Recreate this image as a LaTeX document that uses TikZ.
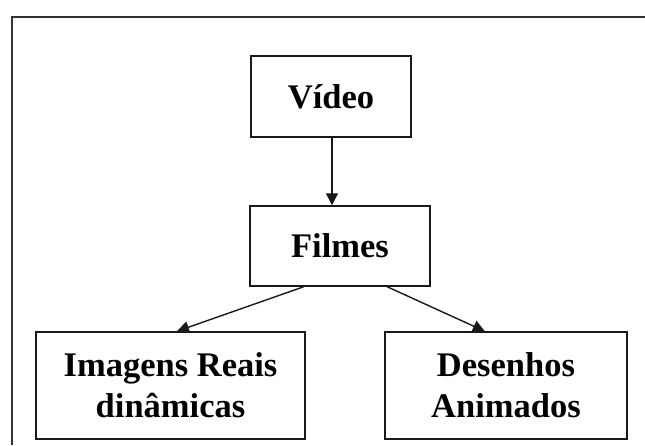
\documentclass[tikz,border=0pt]{standalone}
\usepackage{fontspec}
\setmainfont{Liberation Serif}
\usetikzlibrary{arrows.meta,calc}
\begin{document}
\begin{tikzpicture}[x=1pt,y=-1pt,
  box/.style={draw=black!90, line width=1.5pt, inner sep=0pt, align=center,
    font=\fontsize{34.5}{41}\selectfont\bfseries},
  link/.style={draw=black!90, line width=1.4pt, -{Triangle[length=12pt,width=12pt]}},
  frame/.style={draw=black!80, line width=2pt}]
  \useasboundingbox[fill=white] (0,0) rectangle (645,445);

  % outer frame (top and left edges only)
  \coordinate (ftr) at (645,17);
  \coordinate (ftl) at (12,17);
  \coordinate (fbl) at (12,445);
  \draw[frame] (ftr) -- (ftl) -- (fbl);

  % nodes
  \node[box, minimum width=160pt, minimum height=81pt] (video) at (331,96.5) {Vídeo};
  \node[box, minimum width=180pt, minimum height=80pt] (filmes) at (340,246) {Filmes};
  \node[box, minimum width=269pt, minimum height=107pt] (reais) at (170.5,385.5)
    {Imagens Reais\\dinâmicas};
  \node[box, minimum width=242pt, minimum height=107pt] (desenhos) at (506,385.5)
    {Desenhos\\Animados};

  % connectors
  \draw[link] (video.south -| 332,0) -- (filmes.north -| 332,0);
  \draw[link] ($(filmes.south west)!0.3!(filmes.south east)$)
    -- ($(reais.north west)!0.524!(reais.north east)$);
  \draw[link] ($(filmes.south west)!0.76!(filmes.south east)$)
    -- ($(desenhos.north west)!0.413!(desenhos.north east)$);
\end{tikzpicture}
\end{document}
